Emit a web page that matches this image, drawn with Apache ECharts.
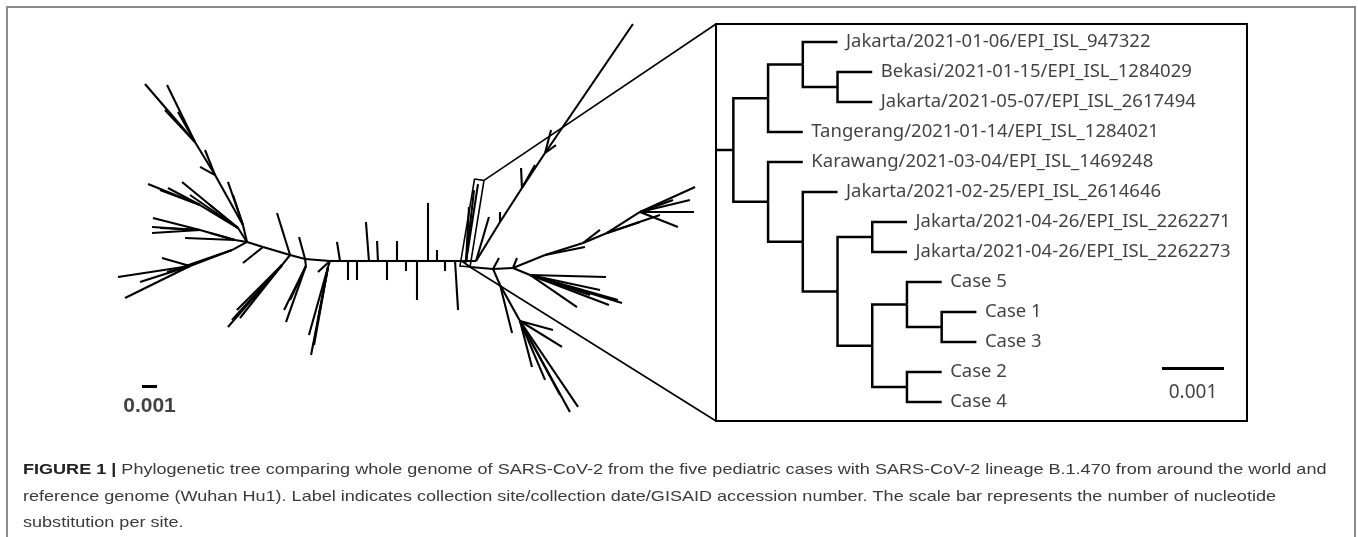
<!DOCTYPE html>
<html><head><meta charset="utf-8">
<script src="https://cdn.jsdelivr.net/npm/echarts@6/dist/echarts.min.js"></script>
<style>html,body{margin:0;padding:0;background:#fff}#c{width:1358px;height:537px}</style>
</head><body><div id="c"></div>
<script>
// ---------- DATA ----------
// Left panel: unrooted tree, node = [id, parentId, x, y] in units of 0.001 substitutions/site
const backboneNodes = [
  ['HL', null, -10.2, 1.27], ['C1','HL',-9.13,0.93], ['C2','C1',-7.33,0.4], ['C3','C2',-6.33,0.13],
  ['C4','C3',-4.67,0], ['C5','C4',-4.0,0], ['C6','C5',-3.47,0], ['C7','C6',-2.87,0], ['C8','C7',-2.07,0],
  ['C9','C8',-1.47,0], ['C10','C9',-0.87,0], ['C11','C10',-0.2,0], ['C12','C11',0.4,0], ['C13','C12',1.13,0],
  ['C14','C13',1.87,0], ['C15','C14',2.47,0], ['C16','C15',3.0,0], ['C17','C16',3.67,0], ['HR','C17',4.13,0]
];
const backboneTwigs = [
  ['t1','C1',-10.47,-0.13], ['t2','C2',-8.2,3.2], ['t3','C3',-6.73,1.6], ['t4','C4',-5.47,-0.73],
  ['t5','C5',-4.2,1.27], ['t6','C6',-3.47,-1.27], ['t7','C7',-2.87,-1.27], ['t8','C8',-2.27,2.6],
  ['t9','C9',-1.53,1.33], ['t10','C10',-0.87,-1.27], ['t11','C11',-0.2,1.33], ['t12','C12',0.4,-0.67],
  ['t13','C13',1.13,-2.6], ['t14','C14',1.87,3.87], ['t15','C15',2.47,0.73], ['t16','C16',3.0,-0.67],
  ['t17','C17',3.87,-3.27],
  ['D2','C2',-7.87,-0.27], ['d2a','D2',-11.47,-4.4], ['d2b','D2',-10.87,-3.27], ['d2c','D2',-11.2,-3.93],
  ['d2d','D2',-9.8,-2.6], ['d2e','D2',-10.67,-3.8],
  ['D3','C3',-6.27,-0.33], ['d3a','D3',-7.6,-4.07], ['d3b','D3',-7.73,-3.27], ['d3c','D3',-7.33,-2.6],
  ['D4','C4',-4.8,-0.4], ['d4a','D4',-5.93,-6.27], ['d4b','D4',-6.07,-4.93], ['d4c','D4',-5.47,-3.93], ['d4d','D4',-5.73,-5.6]
];
const leftClades = [
  ['U1','HL',-10.47,2.4], ['U2','U1',-12.33,5.73], ['U3','U2',-13.67,7.93], ['ula','U3',-17.0,11.8],
  ['ulb','U3',-15.53,11.73], ['ulc','U1',-11.47,5.27], ['uld','U2',-13.33,6.27], ['ule','U3',-15.67,10.07],
  ['ulf','U2',-13.0,7.4], ['ulg','U3',-14.8,9.93], ['ulh','U1',-11.13,4.4],
  ['M1','HL',-10.8,2.2], ['M2','M1',-13.33,3.73], ['mla','M2',-16.8,5.13], ['mlb','M2',-15.47,4.87],
  ['mlc','M1',-14.53,5.27], ['mld','M1',-12.67,3.73], ['mle','M2',-16.0,4.73], ['mlf','M1',-14.0,4.4],
  ['H1','HL',-11.0,1.4], ['H2','H1',-13.33,2.07], ['hla','H2',-16.47,2.87], ['hlb','H2',-16.53,2.27],
  ['hlc','H2',-16.53,1.87], ['hld','H1',-12.67,1.87], ['hle','H2',-16.0,2.2], ['hlf','H1',-14.33,1.53],
  ['L1','HL',-11.2,0.73], ['L2','L1',-14.0,-0.33], ['lla','L2',-18.8,-1.07], ['llb','L2',-18.33,-2.47],
  ['llc','L2',-15.87,0.2], ['lld','L2',-15.53,-0.73], ['lle','L2',-17.33,-1.4], ['llf','L1',-14.67,-0.47]
];
const rightClades = [
  ['K0','HR',4.4,-0.07], ['k1','K0',5.2,5.13], ['k2','K0',4.93,4.73], ['k3','K0',4.6,3.6],
  ['P1','HR',5.07,0], ['P2','P1',6.67,2.6], ['P3','P2',8.13,4.87], ['P4','P3',9.67,7.2], ['ura','P4',15.53,15.8],
  ['urb','P1',5.93,2.93], ['urc','P2',6.67,3.27], ['urd','P3',8.07,6.2], ['ure','P4',10.07,8.73],
  ['urf','P4',10.4,7.73], ['urg','P3',9.0,6.4],
  ['N1','HR',4.67,-0.4], ['N2','N1',6.2,-0.53], ['N3','N2',7.53,-0.47], ['n2t','N2',6.6,0.2], ['n3t','N3',7.8,0.2],
  ['Q1','N3',9.67,0.4], ['Q2','Q1',12.2,1.2], ['Q3','Q2',13.8,1.87], ['Q4','Q3',16.0,3.27],
  ['rua','Q4',19.67,4.93], ['rub','Q4',19.6,3.27], ['ruc','Q4',18.53,2.27], ['rud','Q4',18.2,4.07],
  ['rue','Q2',13.33,2.07], ['ruf','Q3',16.0,2.6], ['rug','Q1',12.33,0.93], ['ruh','Q3',17.33,3.07], ['rui','Q4',19.33,4.07],
  ['S1','N3',8.67,-0.93], ['rma','S1',13.73,-1.07], ['rmb','S1',14.8,-2.8], ['rmc','S1',13.93,-2.93],
  ['rmd','S1',11.8,-3.07], ['rme','S1',12.67,-2.27], ['rmf','S1',13.33,-1.93], ['rmg','S1',14.53,-2.6],
  ['T1','N2',6.67,-1.6], ['T2','T1',8.0,-4.0], ['lra','T1',7.47,-4.8], ['lrb','T2',8.8,-7.07],
  ['lrc','T2',11.33,-10.07], ['lrd','T2',11.87,-9.73], ['lre','T2',10.8,-5.73], ['lrf','T2',10.2,-4.6],
  ['lrg','T2',10.67,-8.93], ['lrh','T2',9.67,-7.93]
];
// zoomed-in clade box (left panel), corners TL, TR, BR, BL
const zoomBox = [[4.97,5.47],[5.6,5.37],[4.67,-0.4],[4.0,-0.33]];

// Right panel: rectangular tree of the zoomed clade
const insetTips = [
  'Jakarta/2021-01-06/EPI_ISL_947322', 'Bekasi/2021-01-15/EPI_ISL_1284029', 'Jakarta/2021-05-07/EPI_ISL_2617494',
  'Tangerang/2021-01-14/EPI_ISL_1284021', 'Karawang/2021-03-04/EPI_ISL_1469248', 'Jakarta/2021-02-25/EPI_ISL_2614646',
  'Jakarta/2021-04-26/EPI_ISL_2262271', 'Jakarta/2021-04-26/EPI_ISL_2262273',
  'Case 5', 'Case 1', 'Case 3', 'Case 2', 'Case 4'
];
const insetTipParent = ['B','C','C','A','D','E','G','G','I','J','J','K','K'];
const insetTipLength = [0.00056,0.00056,0.00056,0.00056,0.00056,0.00056,0.00056,0.00056,0.00056,0.00056,0.00056,0.00056,0.00056];
const insetNodes = ['R','A','B','C','D','E','F','G','H','I','J','K'];
const insetNodeParent = [null,'R','A','B','R','D','E','F','F','H','I','H'];
const insetNodeLength = [0.00028,0.00056,0.00056,0.00056,0.00056,0.00056,0.00056,0.00056,0.00056,0.00056,0.00056,0.00056];

const scaleBarValue = 0.001;
const scaleBarLabel = '0.001';
const captionLines = [
  '{b|FIGURE 1 |} Phylogenetic tree comparing whole genome of SARS-CoV-2 from the five pediatric cases with SARS-CoV-2 lineage B.1.470 from around the world and',
  'reference genome (Wuhan Hu1). Label indicates collection site/collection date/GISAID accession number. The scale bar represents the number of nucleotide',
  'substitution per site.'
];

// ---------- LAYOUT ----------
const LEFT = {left:0, top:0, width:700, height:440, ox:400, oy:261, px:15};
const INSET = {left:716, top:24, width:531, height:397, pxPer001:62, firstTipY:42, tipGap:30};

const allLeft = backboneNodes.concat(backboneTwigs, leftClades, rightClades);
const lp = {};
allLeft.forEach(n => lp[n[0]] = [n[2], n[3]]);
const leftSegs = allLeft.filter(n => n[1]).map(n => ({coords:[lp[n[1]], lp[n[0]]]}));

const ip = {};
insetNodes.forEach((n,i) => { const p = insetNodeParent[i]; ip[n] = {x:(p ? ip[p].x : 0) + insetNodeLength[i]}; });
const tipPos = insetTips.map((t,i) => ({x: ip[insetTipParent[i]].x + insetTipLength[i], y: i}));
for (let i = insetNodes.length - 1; i >= 0; i--) {
  const n = insetNodes[i];
  const ys = [];
  insetTipParent.forEach((p,j) => { if (p === n) ys.push(tipPos[j].y); });
  insetNodeParent.forEach((p,j) => { if (p === n) ys.push(ip[insetNodes[j]].y); });
  ip[n].y = (Math.min(...ys) + Math.max(...ys)) / 2;
}
const insetSegs = [{coords:[[0, ip.R.y],[ip.R.x, ip.R.y]]}];
insetNodes.forEach((n,i) => { const p = insetNodeParent[i]; if (p) insetSegs.push({coords:[[ip[p].x, ip[p].y],[ip[p].x, ip[n].y],[ip[n].x, ip[n].y]]}); });
insetTips.forEach((t,i) => { const p = ip[insetTipParent[i]]; insetSegs.push({coords:[[p.x,p.y],[p.x,tipPos[i].y],[tipPos[i].x,tipPos[i].y]]}); });

const yMinInset = (INSET.top - INSET.firstTipY) / INSET.tipGap;
const yMaxInset = (INSET.top + INSET.height - INSET.firstTipY) / INSET.tipGap;
const xMaxInset = INSET.width / INSET.pxPer001 * scaleBarValue;
const insetBar = {x: (1162 - INSET.left) / INSET.pxPer001 * scaleBarValue, y: (368 - INSET.firstTipY) / INSET.tipGap, ty: (393 - INSET.firstTipY) / INSET.tipGap};
const leftBar = {x: (142 - LEFT.ox) / LEFT.px, y: (LEFT.oy - 386) / LEFT.px, ty: (LEFT.oy - 406) / LEFT.px};

const chart = echarts.init(document.getElementById('c'), null, {renderer:'canvas'});
const lineStyle = (w) => ({color:'#000', width:w, opacity:1});
chart.setOption({
  animation:false,
  backgroundColor:'#fff',
  grid:[
    {left:LEFT.left, top:LEFT.top, width:LEFT.width, height:LEFT.height, show:false},
    {left:INSET.left, top:INSET.top, width:INSET.width, height:INSET.height, show:true, borderColor:'#000', borderWidth:2, backgroundColor:'transparent'}
  ],
  xAxis:[
    {type:'value', gridIndex:0, show:false, min:(LEFT.left - LEFT.ox)/LEFT.px, max:(LEFT.left + LEFT.width - LEFT.ox)/LEFT.px},
    {type:'value', gridIndex:1, show:false, min:0, max:xMaxInset}
  ],
  yAxis:[
    {type:'value', gridIndex:0, show:false, min:(LEFT.oy - LEFT.top - LEFT.height)/LEFT.px, max:(LEFT.oy - LEFT.top)/LEFT.px},
    {type:'value', gridIndex:1, show:false, inverse:true, min:yMinInset, max:yMaxInset}
  ],
  series:[
    {type:'lines', coordinateSystem:'cartesian2d', xAxisIndex:0, yAxisIndex:0, silent:true, data:leftSegs, lineStyle:lineStyle(2.1)},
    {type:'lines', coordinateSystem:'cartesian2d', xAxisIndex:0, yAxisIndex:0, silent:true, polyline:true,
      data:[{coords: zoomBox.concat([zoomBox[0]])}], lineStyle:lineStyle(1.6)},
    {type:'lines', coordinateSystem:'cartesian2d', xAxisIndex:0, yAxisIndex:0, silent:true,
      data:[{coords:[[leftBar.x, leftBar.y],[leftBar.x + scaleBarValue/0.001, leftBar.y]]}], lineStyle:lineStyle(3)},
    {type:'scatter', xAxisIndex:0, yAxisIndex:0, silent:true, symbolSize:1, itemStyle:{color:'transparent'},
      data:[[leftBar.x + scaleBarValue/0.001/2, leftBar.ty]],
      label:{show:true, position:'inside', formatter:scaleBarLabel, fontFamily:'Liberation Sans', fontWeight:'bold', fontSize:21, color:'#111'}},
    {type:'lines', coordinateSystem:'cartesian2d', xAxisIndex:1, yAxisIndex:1, silent:true, polyline:true, data:insetSegs, lineStyle:lineStyle(2.5)},
    {type:'scatter', xAxisIndex:1, yAxisIndex:1, silent:true, symbolSize:1, itemStyle:{color:'transparent'},
      data:tipPos.map((p,i) => ({value:[p.x, p.y], name:insetTips[i]})),
      label:{show:true, position:'right', distance:8, formatter:'{b}', fontFamily:'Noto Sans', fontSize:18.5, color:'#111'}},
    {type:'lines', coordinateSystem:'cartesian2d', xAxisIndex:1, yAxisIndex:1, silent:true,
      data:[{coords:[[insetBar.x, insetBar.y],[insetBar.x + scaleBarValue, insetBar.y]]}], lineStyle:lineStyle(3)},
    {type:'scatter', xAxisIndex:1, yAxisIndex:1, silent:true, symbolSize:1, itemStyle:{color:'transparent'},
      data:[[insetBar.x + scaleBarValue/2, insetBar.ty]],
      label:{show:true, position:'inside', formatter:scaleBarLabel, fontFamily:'Noto Sans', fontSize:19, color:'#111'}}
  ]
});

const tr = chart.convertToPixel({gridIndex:0}, zoomBox[1]);
const br = chart.convertToPixel({gridIndex:0}, zoomBox[2]);
const graphics = [
  {type:'polyline', shape:{points:[[7,537],[7,7],[1355,7],[1355,537]]}, style:{stroke:'#8a8a8a', lineWidth:2, fill:null}, silent:true},
  {type:'line', shape:{x1:tr[0], y1:tr[1], x2:INSET.left, y2:INSET.top}, style:{stroke:'#000', lineWidth:1.6}, silent:true},
  {type:'line', shape:{x1:br[0], y1:br[1], x2:INSET.left, y2:INSET.top + INSET.height}, style:{stroke:'#000', lineWidth:1.6}, silent:true}
];
const capY = [470, 497, 523];
captionLines.forEach((t,i) => graphics.push({
  type:'text', x:23, y:capY[i], scaleX:1.245, silent:true,
  style:{text:t, fill:'#3a3a3a', font:'14.5px "Liberation Sans", Arial, sans-serif', verticalAlign:'middle',
    rich:{b:{fontWeight:'bold', fill:'#222', fontSize:14.5, fontFamily:'Liberation Sans'}}}
}));
chart.setOption({graphic:graphics});
</script>
</body></html>
